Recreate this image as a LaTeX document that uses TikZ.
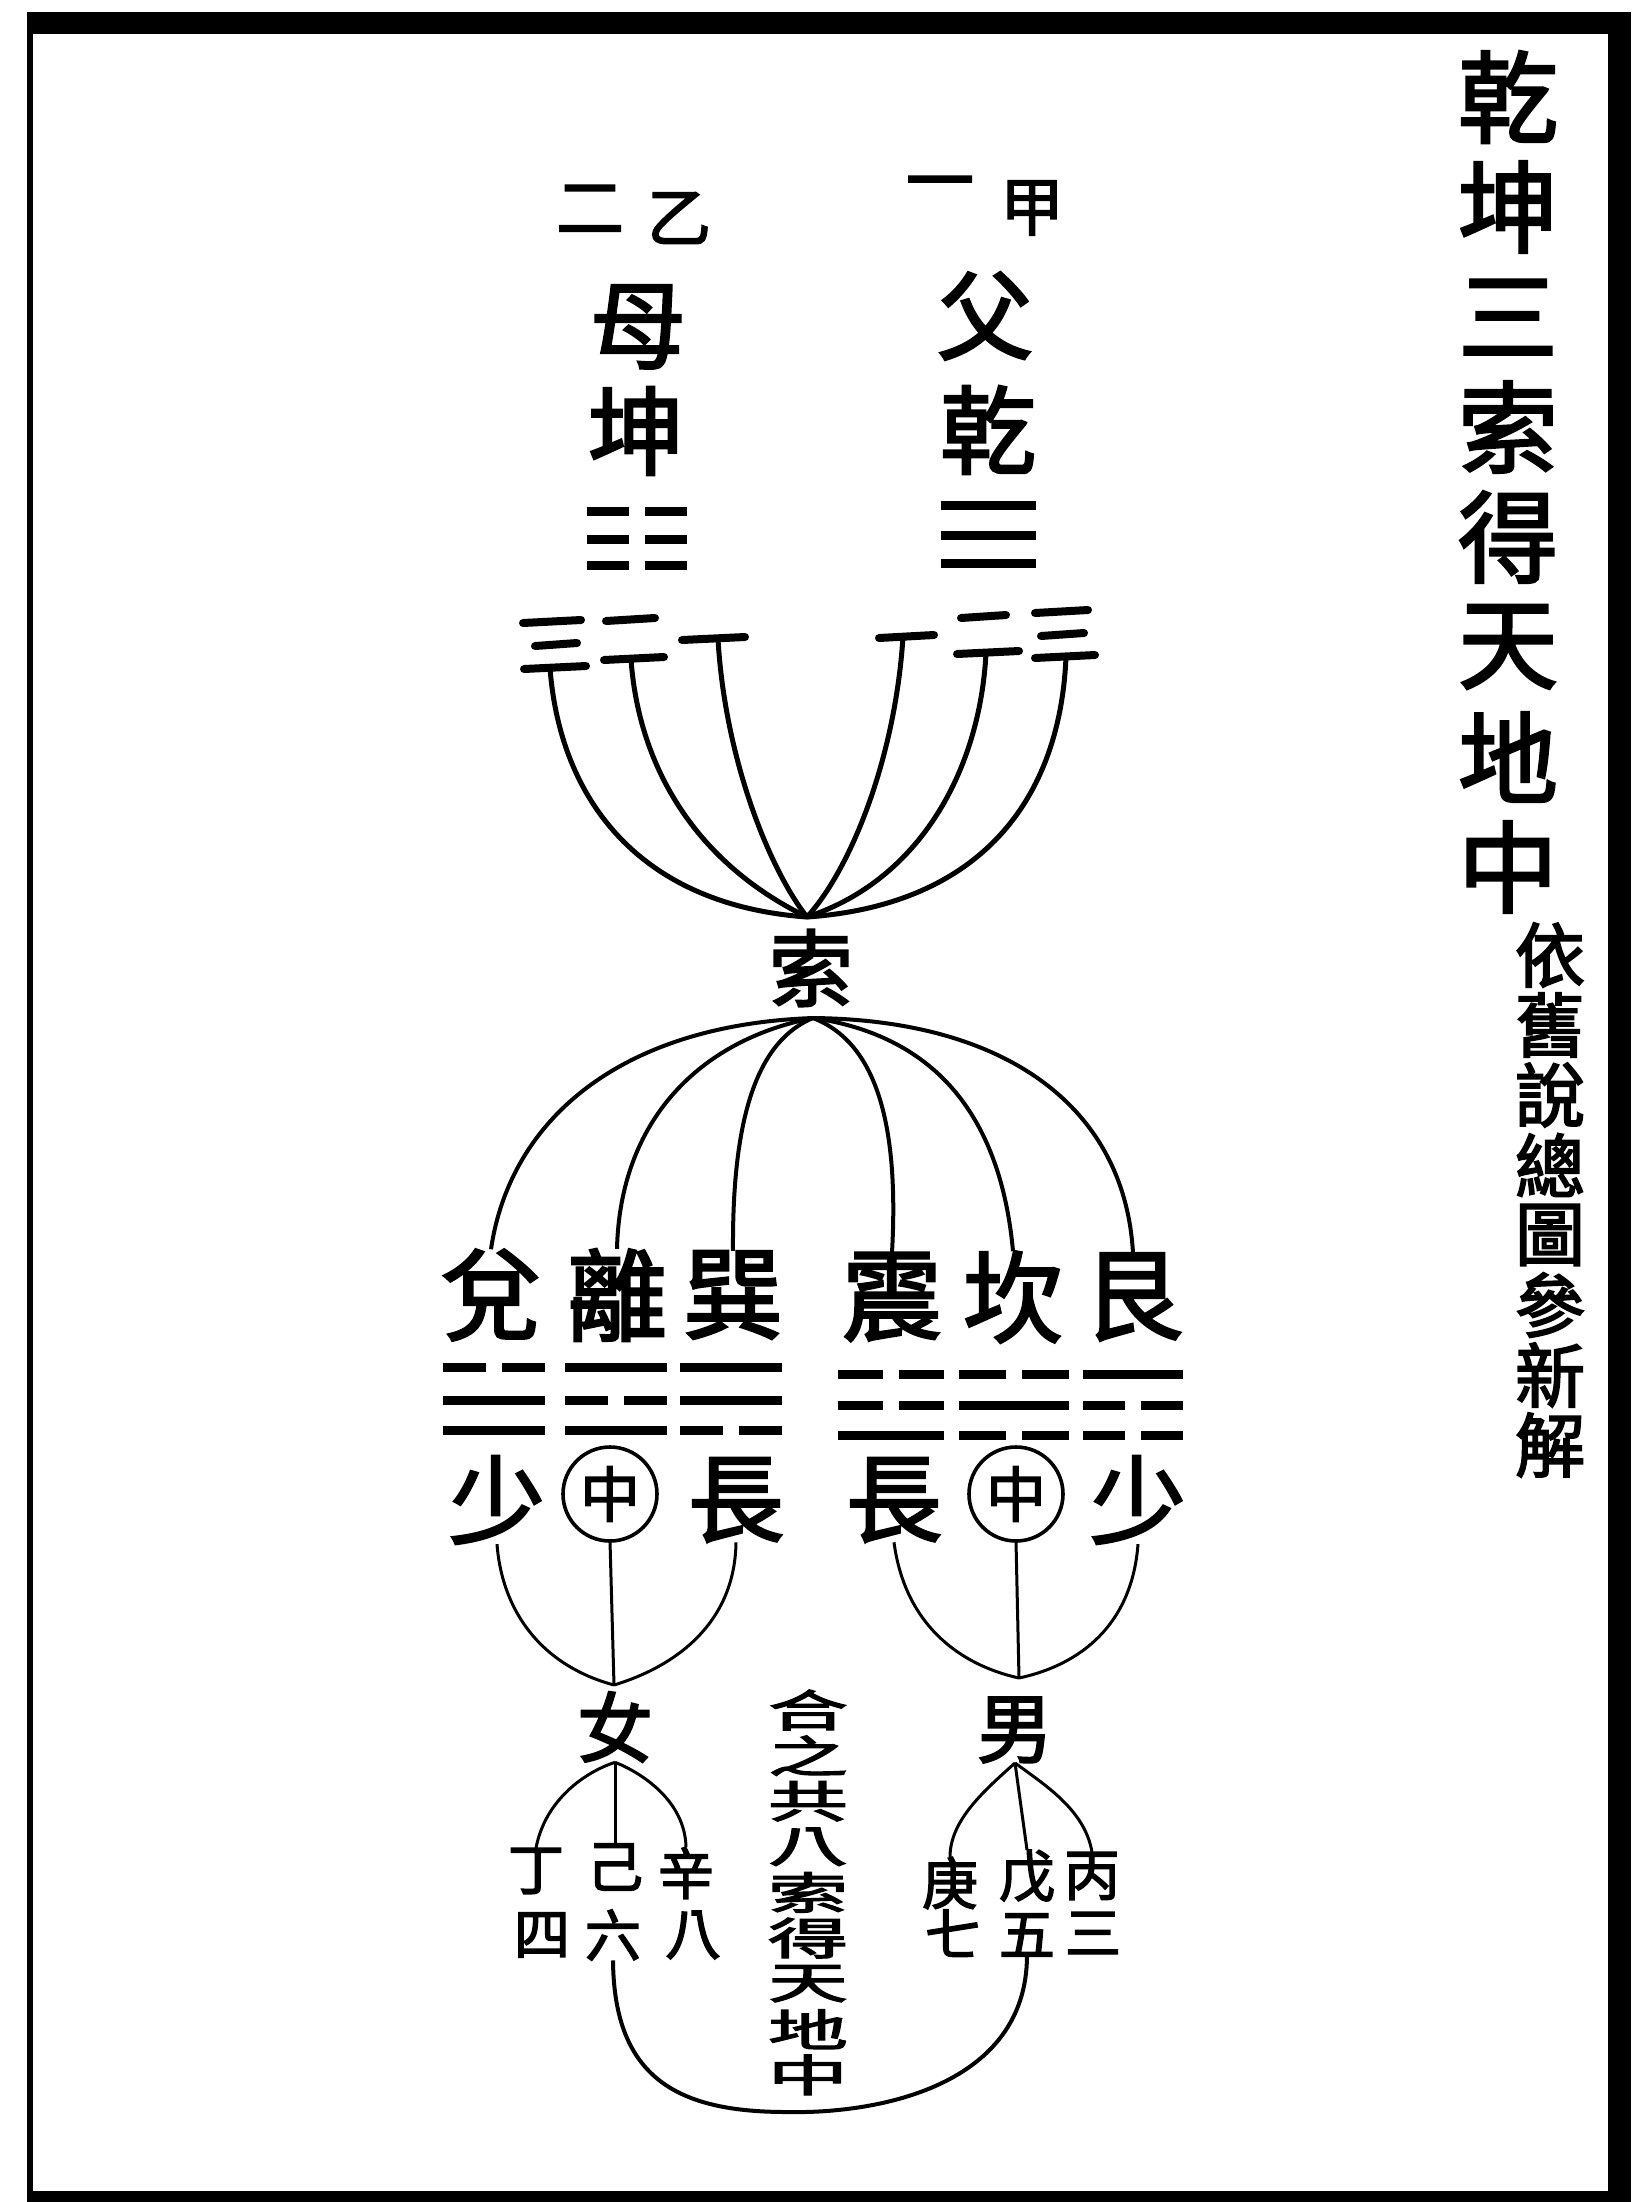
\documentclass[tikz,border=0pt]{standalone}
\usepackage{fontspec}
\usepackage{graphicx}
\newfontfamily\cjk{Noto Sans CJK TC}[FakeBold=2.5]
\newcommand{\fs}[1]{\fontsize{#1}{#1}\selectfont}
\newcommand{\vcol}[6]{\foreach \ch [count=\k from 0] in {#6} {\node (#1\k) at (#2,#3+\k*#4) {\fs{#5}\ch};}}
\newcommand{\vcolsq}[7]{\foreach \ch [count=\k from 0] in {#6} {\node (#1\k) at (#2,#3+\k*#4) {\fs{#5}\scalebox{1}[#7]{\ch}};}}
\newcommand{\yangl}[3]{\draw[tri] (#1-#3/2,#2) -- (#1+#3/2,#2);}
\newcommand{\yinl}[3]{\draw[tri] (#1-#3/2,#2) -- (#1-8,#2); \draw[tri] (#1+8,#2) -- (#1+#3/2,#2);}
\begin{document}
\begin{tikzpicture}[x=0.5pt,y=-0.5pt,
  every node/.style={inner sep=0pt,outer sep=0pt,font=\cjk},
  tri/.style={line width=4.5pt},
  glyph/.style={line width=4pt,line cap=round},
  fan/.style={line width=2.5pt},
  fanb/.style={line width=2pt},
  thinl/.style={line width=1.5pt},
  loopl/.style={line width=2pt},
  ring/.style={circle,draw,line width=1.8pt,minimum size=47pt}]
\useasboundingbox (0,0) rectangle (1638,2202);
% frame
\fill (27,12) rectangle (1631,34);
\fill (27,12) rectangle (33,2202);
\fill (1608,12) rectangle (1631,2202);
\fill (27,2191) rectangle (1631,2202);
% title and subtitle
\vcol{t}{1508}{97}{110}{50}{乾,坤,三,索,得,天,地,中}
\vcol{s}{1550}{955}{70}{35}{依,舊,說,總,圖,參,新,解}
% top labels
\node (er) at (590,209) {\fs{34}二};
\node (yi) at (679,218) {\fs{32}乙};
\node (yi1) at (940,191) {\fs{34}一};
\node (jia) at (1032,208) {\fs{32}甲};
\node (mu) at (638,327) {\fs{48}母};
\node (kunc) at (636,431) {\fs{48}坤};
\node (fu) at (985,316) {\fs{48}父};
\node (qianc) at (988,430) {\fs{48}乾};
% kun and qian trigrams
\yinl{637}{511}{100}\yinl{637}{539}{100}\yinl{637}{565}{100}
\yangl{988}{505}{95}\yangl{988}{535}{95}\yangl{988}{563}{95}
% small glyphs
\draw[glyph] (523,623) -- (581,620); \draw[glyph] (535,646) -- (577,643); \draw[glyph] (524,669) -- (586,666);
\draw[glyph] (606,621) -- (655,618); \draw[glyph] (604,660) -- (664,657);
\draw[glyph] (682,640) -- (745,637);
\draw[glyph] (879,638) -- (934,635);
\draw[glyph] (961,618) -- (1006,615); \draw[glyph] (957,654) -- (1019,651);
\draw[glyph] (1035,613) -- (1088,610); \draw[glyph] (1041,636) -- (1084,633); \draw[glyph] (1035,658) -- (1095,655);
\coordinate (sL1) at (550,668);
\coordinate (sL2) at (631,659);
\coordinate (sL3) at (718,639);
\coordinate (sR1) at (903,637);
\coordinate (sR2) at (986,653);
\coordinate (sR3) at (1066,657);
\coordinate (meet) at (807,917);
\draw[fan] (sL1) .. controls (560,800) and (640,905) .. (meet);
\draw[fan] (sL2) .. controls (638,760) and (690,860) .. (meet);
\draw[fan] (sL3) .. controls (725,760) and (770,870) .. (meet);
\draw[fan] (sR1) .. controls (895,760) and (850,870) .. (meet);
\draw[fan] (sR2) .. controls (980,770) and (920,880) .. (meet);
\draw[fan] (sR3) .. controls (1060,800) and (980,905) .. (meet);
% suo
\node (suo) at (811,968) {\fs{42}索};
\coordinate (fo) at (813,1018);
% eight trigram names
\node (dui) at (491,1295) {\fs{50}兌};
\node (li) at (617,1295) {\fs{50}離};
\node (xun) at (733,1295) {\fs{50}巽};
\node (zhen) at (892,1297) {\fs{50}震};
\node (kan) at (1013,1297) {\fs{50}坎};
\node (gen) at (1133,1297) {\fs{50}艮};
\draw[fanb] (fo) .. controls (620,1025) and (510,1120) .. (dui.north);
\draw[fanb] (fo) .. controls (700,1040) and (620,1120) .. (li.north);
\draw[fanb] (fo) .. controls (760,1040) and (732,1110) .. (xun.north);
\draw[fanb] (fo) .. controls (870,1040) and (900,1110) .. (zhen.north);
\draw[fanb] (fo) .. controls (930,1035) and (1000,1110) .. (kan.north);
\draw[fanb] (fo) .. controls (1010,1020) and (1125,1110) .. (gen.north);
% trigram lines
\yinl{494}{1367}{102}\yangl{494}{1400}{102}\yangl{494}{1430}{102}
\yangl{616}{1367}{102}\yinl{616}{1400}{102}\yangl{616}{1430}{102}
\yangl{731}{1367}{102}\yangl{731}{1400}{102}\yinl{731}{1430}{102}
\yinl{891}{1374}{106}\yinl{891}{1405}{106}\yangl{891}{1435}{106}
\yinl{1014}{1374}{110}\yangl{1014}{1405}{110}\yinl{1014}{1435}{110}
\yangl{1133}{1374}{100}\yinl{1133}{1405}{100}\yinl{1133}{1435}{100}
% shao zhong chang row
\node (shaoL) at (497,1500) {\fs{48}少};
\node[ring] (zhongL) at (610,1494) {\fs{30}中};
\node (changL) at (736,1500) {\fs{48}長};
\node (changR) at (894,1500) {\fs{48}長};
\node[ring] (zhongR) at (1016,1494) {\fs{30}中};
\node (shaoR) at (1138,1500) {\fs{48}少};
\coordinate (nv) at (614,1685);
\coordinate (nm) at (1019,1678);
\draw[thinl] (shaoL.south) .. controls (502,1610) and (540,1665) .. (nv);
\draw[thinl] (zhongL.south) -- (nv);
\draw[thinl] (changL.south) .. controls (735,1620) and (680,1665) .. (nv);
\draw[thinl] (changR.south) .. controls (905,1625) and (960,1665) .. (nm);
\draw[thinl] (zhongR.south) -- (nm);
\draw[thinl] (shaoR.south) .. controls (1132,1625) and (1080,1665) .. (nm);
\node (nu) at (615,1727) {\fs{38}女};
\node (nan) at (1015,1730) {\fs{38}男};
% stems and branches
\node (ding) at (536,1871) {\fs{28}丁};
\node (si) at (542,1935) {\fs{28}四};
\node (ji) at (615,1867) {\fs{28}己};
\node (liu) at (613,1935) {\fs{28}六};
\node (xin) at (686,1873) {\fs{28}辛};
\node (ba) at (693,1935) {\fs{28}八};
\node (geng) at (950,1883) {\fs{28}庚};
\node (qi) at (953,1933) {\fs{28}七};
\node (wu) at (1027,1876) {\fs{28}戊};
\node (wu5) at (1027,1935) {\fs{28}五};
\node (bing) at (1092,1876) {\fs{28}丙};
\node (san) at (1093,1933) {\fs{28}三};
\draw[thinl] (nu.south) .. controls (585,1772) and (545,1800) .. (ding.north);
\draw[thinl] (nu.south) -- (ji.north);
\draw[thinl] (nu.south) .. controls (640,1772) and (685,1800) .. (xin.north);
\draw[thinl] (nan.south) .. controls (985,1790) and (950,1820) .. (geng.north);
\draw[thinl] (nan.south) -- (wu.north);
\draw[thinl] (nan.south) .. controls (1045,1785) and (1085,1810) .. (bing.north);
% loop
\draw[loopl] (liu.south) .. controls (614,2080) and (680,2112) .. (787,2112)
  .. controls (880,2114) and (1026,2085) .. (wu5.south);
% middle text
\vcolsq{m}{808}{1710}{45.6}{40}{合,之,共,八,索,得,天,地,中}{0.55}
\end{tikzpicture}
\end{document}
